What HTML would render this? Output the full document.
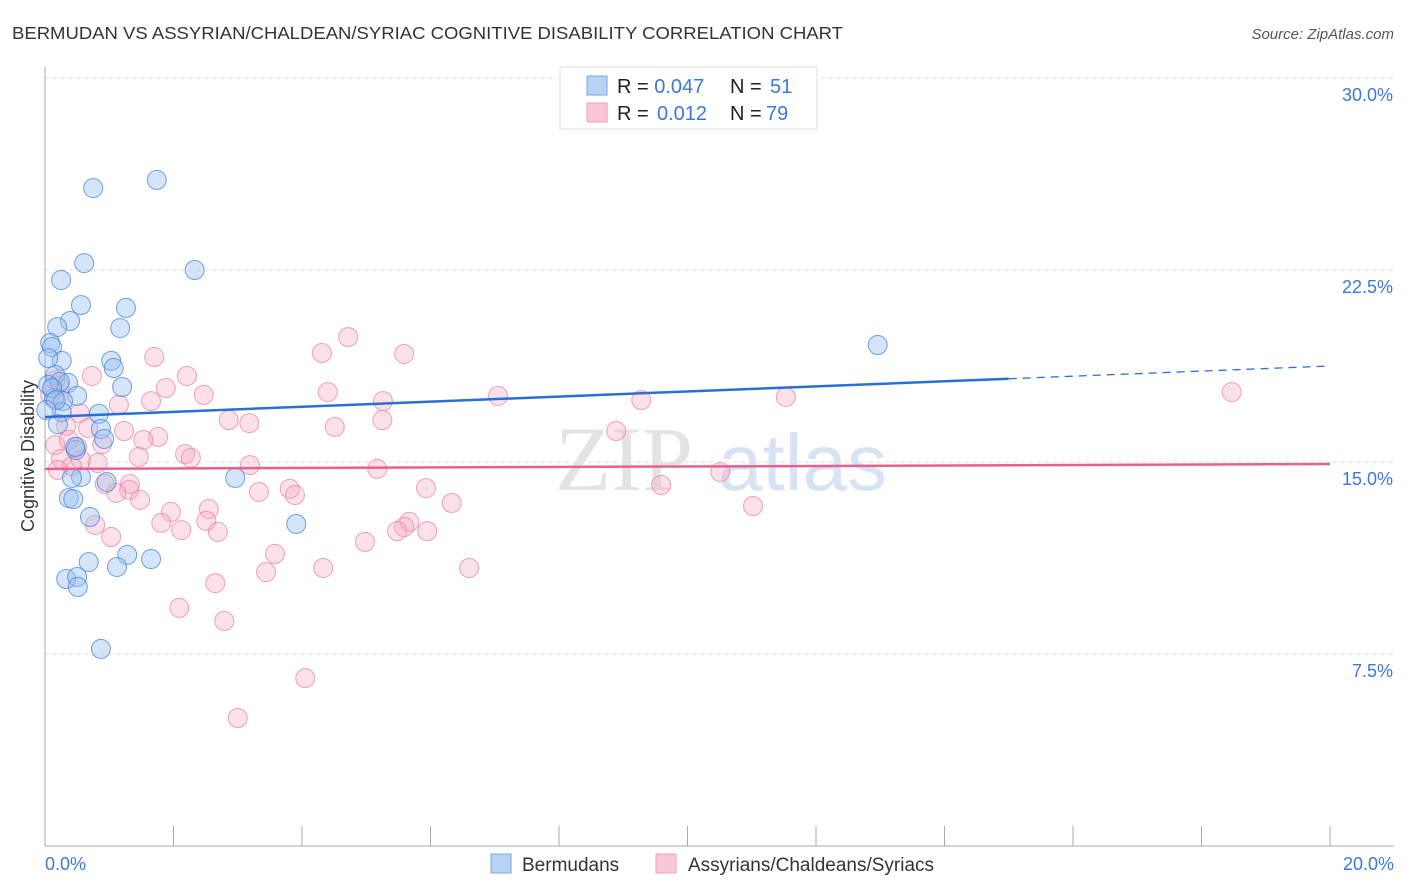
<!DOCTYPE html>
<html><head><meta charset="utf-8"><style>
body{margin:0;background:#fff;font-family:"Liberation Sans",sans-serif}
svg{display:block}
</style></head><body>
<svg id="chart" width="1406" height="892">
<text x="12" y="39" font-size="17.5" fill="#333" textLength="831" lengthAdjust="spacingAndGlyphs">BERMUDAN VS ASSYRIAN/CHALDEAN/SYRIAC COGNITIVE DISABILITY CORRELATION CHART</text>
<text x="1394" y="39" font-size="15" fill="#555" font-style="italic" text-anchor="end">Source: ZipAtlas.com</text>
<g><text x="555" y="490" font-size="92" fill="#d8d8d8" font-family="Liberation Serif" opacity="0.7">ZIP</text><text x="718" y="490" font-size="80" fill="#c5d8ef" opacity="0.7">atlas</text></g>
<g id="grid"></g><g id="axes"></g><g id="marks"></g>
<g>
<rect x="560" y="67" width="257" height="62" fill="#fff" stroke="#ddd"/>
<rect x="587" y="76" width="20" height="19" fill="#b8d2f4" stroke="#7aa7e0"/>
<rect x="587" y="103" width="20" height="19" fill="#f9c7d6" stroke="#eea0b8"/>
<text x="617" y="93" font-size="20" fill="#222">R = <tspan fill="#3b78d8">0.047</tspan><tspan x="730">N = </tspan><tspan fill="#3b78d8" x="770">51</tspan></text>
<text x="617" y="120" font-size="20" fill="#222">R = <tspan fill="#3b78d8" x="657">0.012</tspan><tspan x="730">N = </tspan><tspan fill="#3b78d8" x="766">79</tspan></text>
</g>
<g>
<rect x="491" y="854" width="20" height="19" fill="#b8d2f4" stroke="#7aa7e0"/>
<text x="522" y="871" font-size="19" fill="#333">Bermudans</text>
<rect x="656" y="854" width="20" height="19" fill="#f9c7d6" stroke="#eea0b8"/>
<text x="688" y="871" font-size="19" fill="#333">Assyrians/Chaldeans/Syriacs</text>
</g>
<text transform="translate(34,456) rotate(-90)" font-size="18" fill="#333" text-anchor="middle">Cognitive Disability</text>
</svg>
<script>
const yTicks=[7.5,15,22.5,30];
const yTickLabels=["7.5%","15.0%","22.5%","30.0%"];
const xTicks=[0,2,4,6,8,10,12,14,16,18,20];
const blueX=[0.75,1.74,0.61,2.33,0.25,0.56,1.26,0.39,0.19,1.17,0.08,0.11,0.26,1.03,1.07,0.16,0.36,0.23,1.20,0.14,0.50,0.28,0.26,0.84,0.20,0.87,0.92,0.48,0.56,2.96,0.42,0.37,0.44,0.70,3.91,1.28,0.68,1.65,1.12,0.33,0.50,0.51,0.87,12.96,0.05,0.05,0.11,0.17,0.47,0.96,0.02];
const blueY=[25.70,26.02,22.77,22.5,22.11,21.13,21.02,20.51,20.27,20.23,19.65,19.49,18.95,18.95,18.67,18.40,18.09,18.13,17.93,17.50,17.58,17.38,16.95,16.88,16.48,16.29,15.90,15.47,14.41,14.38,14.38,13.59,13.55,12.85,12.58,11.37,11.09,11.21,10.90,10.43,10.51,10.12,7.70,19.57,19.06,18.01,17.89,17.42,15.59,14.22,17.03];
const pinkX=[4.72,4.31,5.59,1.70,0.73,2.21,1.88,4.40,0.16,0.23,2.47,1.65,5.26,7.05,9.28,11.53,18.47,1.15,2.86,3.18,5.25,4.51,8.89,0.33,0.67,1.23,1.76,1.53,0.89,0.50,0.16,0.37,0.25,0.56,0.82,1.46,2.18,2.27,3.19,5.17,10.51,9.59,0.93,1.32,1.31,1.11,1.48,3.33,3.81,3.89,5.93,6.33,2.55,1.96,1.81,2.12,2.51,2.69,0.78,1.03,11.02,5.67,5.59,5.48,5.95,4.98,3.58,3.44,4.33,6.60,2.65,2.09,2.79,4.05,3.00,0.42,0.20,0.08,0.54];
const pinkY=[19.88,19.26,19.22,19.10,18.36,18.36,17.89,17.73,18.20,17.97,17.62,17.38,17.38,17.58,17.42,17.54,17.73,17.23,16.64,16.52,16.64,16.37,16.21,16.41,16.33,16.21,15.98,15.86,15.70,15.59,15.66,15.86,15.12,15.08,14.96,15.20,15.31,15.16,14.88,14.73,14.61,14.10,14.14,14.14,13.91,13.79,13.52,13.83,13.95,13.71,13.98,13.40,13.16,13.05,12.62,12.34,12.70,12.27,12.54,12.07,13.28,12.66,12.46,12.30,12.30,11.88,11.41,10.70,10.86,10.86,10.27,9.30,8.79,6.56,5.00,14.84,14.69,17.62,16.91];
const blueTrend=[16.76,18.75];
const pinkTrend=[14.73,14.92];
const NS="http://www.w3.org/2000/svg";
const X0=45,X1=1330,Y0=846,PXY=25.6;
function sx(v){return X0+(X1-X0)*v/20;}
function sy(v){return Y0-v*PXY;}
function mk(tag,attrs,parent){const e=document.createElementNS(NS,tag);for(const k in attrs)e.setAttribute(k,attrs[k]);parent.appendChild(e);return e;}
const grid=document.getElementById('grid'),axes=document.getElementById('axes'),marks=document.getElementById('marks');
yTicks.forEach((t,i)=>{
  const l=mk('line',{x1:X0,x2:1394,y1:sy(t),y2:sy(t),stroke:'#ddd','stroke-dasharray':'4,4'},grid);
  
  
  const tx=mk('text',{x:1393,y:sy(t)+23,'font-size':18,fill:'#3b78d8','text-anchor':'end'},axes);
  tx.textContent=yTickLabels[i];
  
  
});
const ya=mk('line',{x1:X0,x2:X0,y1:67,y2:Y0,stroke:'#aaa'},axes);


const xa=mk('line',{x1:X0,x2:1394,y1:Y0,y2:Y0,stroke:'#aaa'},axes);


xTicks.forEach(t=>{
  const l=mk('line',{x1:sx(t),x2:sx(t),y1:826,y2:Y0,stroke:'#aaa'},axes);
  
  
});
[[0,"0.0%","start",45],[20,"20.0%","end",1394]].forEach(a=>{
  const t=mk('text',{x:a[3],y:870,'font-size':18,fill:'#3b78d8','text-anchor':a[2]},axes);
  t.textContent=a[1];
  
  
});
function pts(xs,ys,fill,stroke,name){
  xs.forEach((x,i)=>{
    const c=mk('circle',{cx:sx(x),cy:sy(ys[i]),r:9.5,fill:fill,stroke:stroke,'stroke-width':1},marks);
    
    
  });
}
pts(pinkX,pinkY,'rgba(246,170,195,0.35)','rgba(232,130,165,0.75)','assyrian-point');
pts(blueX,blueY,'rgba(150,190,240,0.4)','rgba(70,130,215,0.75)','bermudan-point');
const bs=blueTrend[0]+(blueTrend[1]-blueTrend[0])*0.75;
const b1=mk('line',{x1:sx(0),y1:sy(blueTrend[0]),x2:sx(15),y2:sy(bs),stroke:'#2a6fd6','stroke-width':2.5},marks);


const b2=mk('line',{x1:sx(15),y1:sy(bs),x2:sx(20),y2:sy(blueTrend[1]),stroke:'#2a6fd6','stroke-width':1.3,'stroke-dasharray':'8,6'},marks);


const p1=mk('line',{x1:sx(0),y1:sy(pinkTrend[0]),x2:sx(20),y2:sy(pinkTrend[1]),stroke:'#e8608c','stroke-width':2.5},marks);


</script>
</body></html>
